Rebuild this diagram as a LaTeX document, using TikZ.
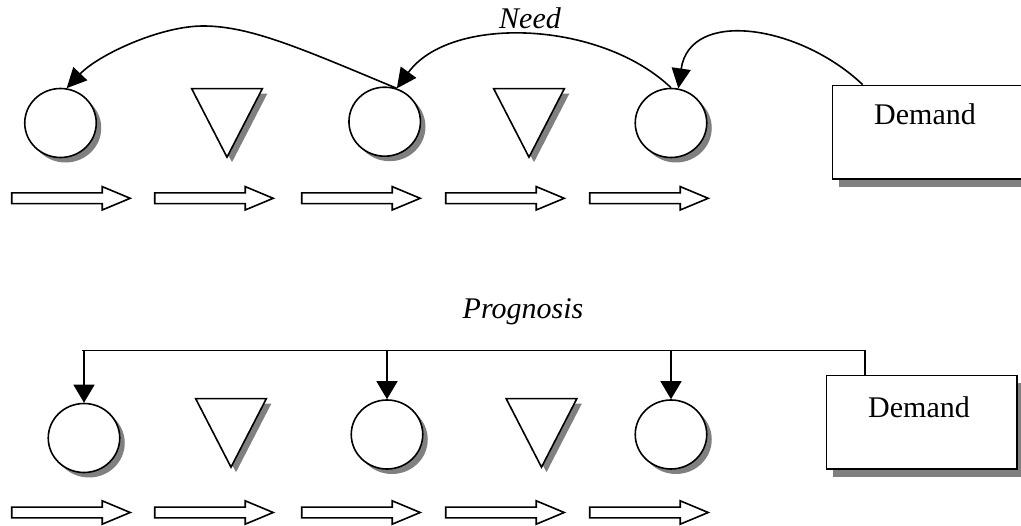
\documentclass[tikz,border=0pt]{standalone}
\usepackage{fontspec}
\setmainfont{Liberation Serif}
\usetikzlibrary{arrows.meta,shapes.geometric,shadows}
\begin{document}
\begin{tikzpicture}[x=1pt,y=-1pt,line width=1.6pt,line join=miter,
  sh/.style={drop shadow={shadow xshift=5pt,shadow yshift=-5pt,fill=black!50,opacity=1}},
  bsh/.style={drop shadow={shadow xshift=6pt,shadow yshift=-8pt,fill=black!50,opacity=1}},
  stock/.style={ellipse,draw,fill=white,inner sep=0pt,minimum width=71.5pt,minimum height=69pt,sh},
  demandbox/.style={rectangle,draw,fill=white,inner sep=0pt,anchor=north west,bsh},
  lbl/.style={font=\fontsize{30pt}{36pt}\selectfont,inner sep=0pt,anchor=base},
  curvearrow/.style={-{Triangle[length=20pt,width=19pt]}},
  downarrow/.style={-{Triangle[length=18pt,width=21pt]}},
  tri/.pic={\draw[fill=white,sh] (-35.3,0) -- (35.3,0) -- (0,68.5) -- cycle;},
  flow/.pic={\draw[fill=white] (0,-5.4) -- (90.5,-5.4) -- (90.5,-11.7) -- (118.5,0) -- (90.5,11.7) -- (90.5,5.4) -- (0,5.4) -- cycle;},
]
\clip (0,0) rectangle (1021,526);
\fill[white] (0,0) rectangle (1021,526);

% ---------- top: Need ----------
\node[stock] (c1) at (60.5,123) {};
\node[stock] (c2) at (384.7,121.7) {};
\node[stock] (c3) at (671,123) {};
\pic at (227,88.7) {tri};
\pic at (529,88.7) {tri};
\node[demandbox,minimum width=192pt,minimum height=93.6pt] (d1) at (831.7,84.7) {};
\node[lbl] (d1t) at (925,125) {Demand};
\node[lbl] (need) at (530,29) {\itshape Need};
\foreach \x in {11.7,154.7,301.7,445.7,589.7} \pic at (\x,198.3) {flow};

\draw[curvearrow] (c2.70) .. controls (300,48) and (250,26) .. (203,26)
      .. controls (160,26) and (98,55) .. (c1.80);
\draw[curvearrow] (c3.north) .. controls (600,20) and (450,15) .. (c2.70);
\coordinate (d1s) at ([xshift=31pt]d1.north west);
\draw[curvearrow] (d1s) .. controls (800,25) and (690,8) .. (c3.78);

% ---------- bottom: Prognosis ----------
\node[stock] (c4) at (84,438) {};
\node[stock] (c5) at (387,434.5) {};
\node[stock] (c6) at (671,434.5) {};
\pic at (231,398.7) {tri};
\pic at (541.5,398.7) {tri};
\node[demandbox,minimum width=190.6pt,minimum height=93.6pt] (d2) at (825.7,374.7) {};
\node[lbl] (d2t) at (919,418) {Demand};
\node[lbl] (prog) at (523,319) {\itshape Prognosis};
\foreach \x in {11.7,154.7,301.7,445.7,589.7} \pic at (\x,512.5) {flow};

\coordinate (pl) at (82,350.5);
\coordinate (pr) at (865,350.5);
\draw (pl) -- (pr) -- (pr |- d2.north);
\foreach \c in {c4,c5,c6} \draw[downarrow] (\c |- pl) -- (\c.north);
\end{tikzpicture}
\end{document}
